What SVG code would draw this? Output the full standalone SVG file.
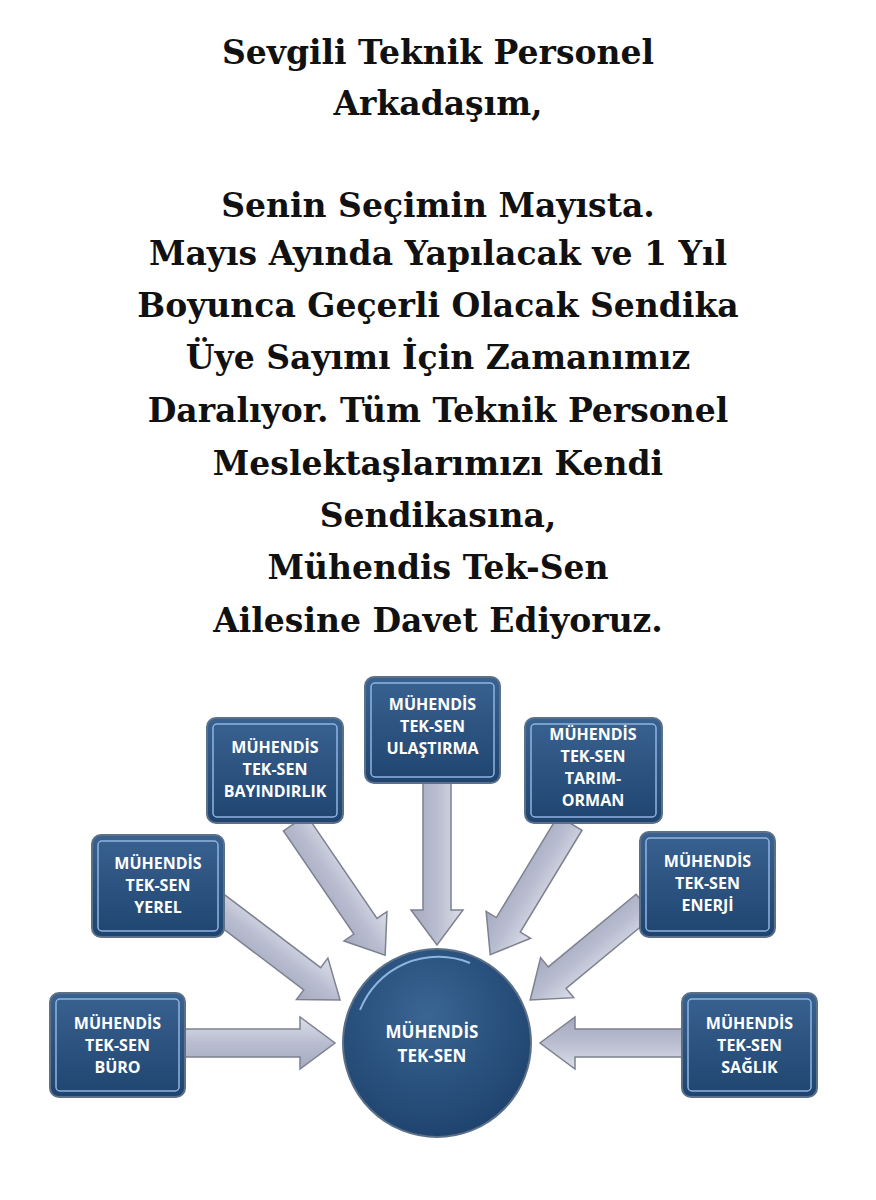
<svg xmlns="http://www.w3.org/2000/svg" width="876" height="1200" viewBox="0 0 876 1200">
<defs>
<linearGradient id="bg" x1="0" y1="0" x2="0" y2="1"><stop offset="0" stop-color="#3a6290"/><stop offset="1" stop-color="#1f4470"/></linearGradient>
<radialGradient id="cg" cx="0.45" cy="0.35" r="0.7"><stop offset="0" stop-color="#3a6593"/><stop offset="1" stop-color="#1d416c"/></radialGradient>
<linearGradient id="ag" x1="0" y1="0" x2="0" y2="1"><stop offset="0" stop-color="#dcdfe9"/><stop offset="0.5" stop-color="#b9bdd0"/><stop offset="1" stop-color="#a5aac0"/></linearGradient>
</defs>
<style>
.t{font-family:"DejaVu Serif","Liberation Serif",serif;font-weight:bold;font-size:33px;fill:#111;text-anchor:middle}
.box{fill:url(#bg);stroke:#5c7088;stroke-width:2}
.in{fill:none;stroke:#8fb4de;stroke-width:1.5}
.l{font-family:"Open Sans","Liberation Sans",sans-serif;font-weight:bold;font-size:16px;fill:#fff;text-anchor:middle}
.a{fill:url(#ag);stroke:#7e8190;stroke-width:1.5}
</style>
<rect width="876" height="1200" fill="#fff"/>
<g id="heading">
<text class="t" x="438" y="64">Sevgili Teknik Personel</text>
<text class="t" x="438" y="115">Arkadaşım,</text>
<text class="t" x="438" y="217">Senin Seçimin Mayısta.</text>
<text class="t" x="438" y="265">Mayıs Ayında Yapılacak ve 1 Yıl</text>
<text class="t" x="438" y="317">Boyunca Geçerli Olacak Sendika</text>
<text class="t" x="438" y="369">Üye Sayımı İçin Zamanımız</text>
<text class="t" x="438" y="422">Daralıyor. Tüm Teknik Personel</text>
<text class="t" x="438" y="475">Meslektaşlarımızı Kendi</text>
<text class="t" x="438" y="527">Sendikasına,</text>
<text class="t" x="438" y="579">Mühendis Tek-Sen</text>
<text class="t" x="438" y="632">Ailesine Davet Ediyoruz.</text>
</g>
<g id="connectors">
<polygon class="a" transform="translate(185,1043)" points="0,-14 115,-14 115,-26 150,0 115,26 115,14 0,14"/>
<polygon class="a" transform="translate(682,1043) rotate(180)" points="0,-14 107,-14 107,-26 142,0 107,26 107,14 0,14"/>
<polygon class="a" transform="translate(437,783) rotate(90)" points="0,-14 127,-14 127,-26 162,0 127,26 127,14 0,14"/>
<polygon class="a" transform="translate(215,905) rotate(37.2)" points="0,-14 122,-14 122,-26 157,0 122,26 122,14 0,14"/>
<polygon class="a" transform="translate(295,823) rotate(55.7)" points="0,-14 125,-14 125,-26 160,0 125,26 125,14 0,14"/>
<polygon class="a" transform="translate(570,823) rotate(121.2)" points="0,-14 119,-14 119,-26 154,0 119,26 119,14 0,14"/>
<polygon class="a" transform="translate(645,905) rotate(140.4)" points="0,-14 114,-14 114,-26 149,0 114,26 114,14 0,14"/>
</g>
<g id="buro"><rect class="box" x="50" y="993" width="135" height="104" rx="9"/><rect class="in" x="56" y="999" width="123" height="92" rx="4"/>
<text class="l" x="117.5" y="1029">MÜHENDİS</text><text class="l" x="117.5" y="1051">TEK-SEN</text><text class="l" x="117.5" y="1073">BÜRO</text></g>
<g id="yerel"><rect class="box" x="92" y="835" width="132" height="102" rx="9"/><rect class="in" x="98" y="841" width="120" height="90" rx="4"/>
<text class="l" x="158" y="869">MÜHENDİS</text><text class="l" x="158" y="891">TEK-SEN</text><text class="l" x="158" y="913">YEREL</text></g>
<g id="bayindirlik"><rect class="box" x="207" y="718" width="136" height="105" rx="9"/><rect class="in" x="213" y="724" width="124" height="93" rx="4"/>
<text class="l" x="275" y="753">MÜHENDİS</text><text class="l" x="275" y="775">TEK-SEN</text><text class="l" x="275" y="797">BAYINDIRLIK</text></g>
<g id="ulastirma"><rect class="box" x="365" y="677" width="135" height="106" rx="9"/><rect class="in" x="371" y="683" width="123" height="94" rx="4"/>
<text class="l" x="432.5" y="710">MÜHENDİS</text><text class="l" x="432.5" y="732">TEK-SEN</text><text class="l" x="432.5" y="754">ULAŞTIRMA</text></g>
<g id="tarim"><rect class="box" x="525" y="718" width="137" height="105" rx="9"/><rect class="in" x="531" y="724" width="125" height="93" rx="4"/>
<text class="l" x="593" y="740">MÜHENDİS</text><text class="l" x="593" y="762">TEK-SEN</text><text class="l" x="593" y="784">TARIM-</text><text class="l" x="593" y="806">ORMAN</text></g>
<g id="enerji"><rect class="box" x="640" y="832" width="135" height="105" rx="9"/><rect class="in" x="646" y="838" width="123" height="93" rx="4"/>
<text class="l" x="707.5" y="867">MÜHENDİS</text><text class="l" x="707.5" y="889">TEK-SEN</text><text class="l" x="707.5" y="911">ENERJİ</text></g>
<g id="saglik"><rect class="box" x="682" y="993" width="135" height="104" rx="9"/><rect class="in" x="688" y="999" width="123" height="92" rx="4"/>
<text class="l" x="749.5" y="1029">MÜHENDİS</text><text class="l" x="749.5" y="1051">TEK-SEN</text><text class="l" x="749.5" y="1073">SAĞLIK</text></g>
<g id="center"><circle cx="437" cy="1043" r="94" fill="url(#cg)" stroke="#5c7088" stroke-width="2"/>
<path d="M360,1010 A84,84 0 0 1 470,963" fill="none" stroke="#8fb4de" stroke-width="2"/>
<text class="l" x="432" y="1038" style="font-size:17px">MÜHENDİS</text><text class="l" x="432" y="1062" style="font-size:17px">TEK-SEN</text></g>
</svg>
